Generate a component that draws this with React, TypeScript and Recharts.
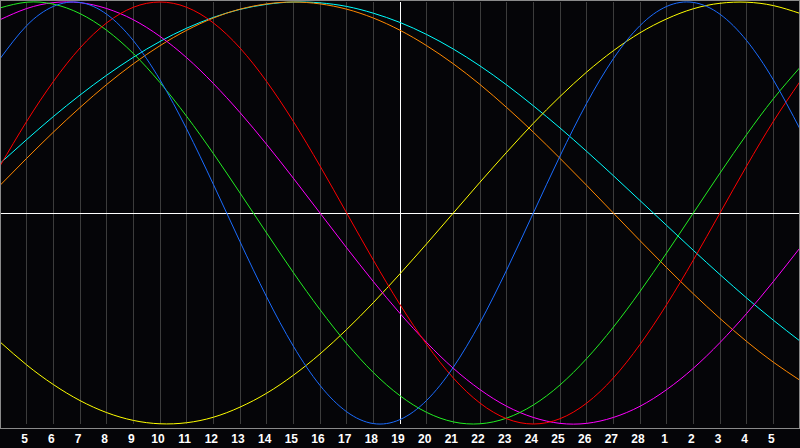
import React from "react";
import { LineChart, Line, XAxis, YAxis, CartesianGrid, ReferenceLine } from "recharts";

const days = [0, 1, 2, 3, 4, 5, 6, 7, 8, 9, 10, 11, 12, 13, 14, 15, 16, 17, 18, 19, 20, 21, 22, 23, 24, 25, 26, 27, 28, 29, 30];
const dayLabels = ["4", "5", "6", "7", "8", "9", "10", "11", "12", "13", "14", "15", "16", "17", "18", "19", "20", "21", "22", "23", "24", "25", "26", "27", "28", "1", "2", "3", "4", "5", "6"];
const tickDays = [1, 2, 3, 4, 5, 6, 7, 8, 9, 10, 11, 12, 13, 14, 15, 16, 17, 18, 19, 20, 21, 22, 23, 24, 25, 26, 27, 28, 29];
const todayIndex = 15;

const physical = [0.731, 0.888, 0.979, 0.998, 0.942, 0.817, 0.631, 0.398, 0.136, -0.136, -0.398, -0.631, -0.817, -0.942, -0.998, -0.979, -0.888, -0.731, -0.52, -0.27, 0, 0.27, 0.52, 0.731, 0.888, 0.979, 0.998, 0.942, 0.817, 0.631, 0.398];
const emotional = [0.223, 0.434, 0.623, 0.782, 0.901, 0.975, 1, 0.975, 0.901, 0.782, 0.623, 0.434, 0.223, 0, -0.223, -0.434, -0.623, -0.782, -0.901, -0.975, -1, -0.975, -0.901, -0.782, -0.623, -0.434, -0.223, 0, 0.223, 0.434, 0.623];
const intellectual = [0.972, 0.999, 0.99, 0.945, 0.866, 0.756, 0.618, 0.458, 0.282, 0.095, -0.095, -0.282, -0.458, -0.618, -0.756, -0.866, -0.945, -0.99, -0.999, -0.972, -0.91, -0.815, -0.69, -0.541, -0.372, -0.189, 0, 0.189, 0.372, 0.541, 0.69];
const intuitive = [0.916, 0.969, 0.997, 0.997, 0.969, 0.916, 0.837, 0.736, 0.614, 0.476, 0.325, 0.165, 0, -0.165, -0.325, -0.476, -0.614, -0.736, -0.837, -0.916, -0.969, -0.997, -0.997, -0.969, -0.916, -0.837, -0.736, -0.614, -0.476, -0.325, -0.165];
const aesthetic = [-0.611, -0.72, -0.813, -0.889, -0.946, -0.983, -0.999, -0.994, -0.968, -0.92, -0.854, -0.769, -0.668, -0.552, -0.425, -0.288, -0.146, 0, 0.146, 0.288, 0.425, 0.552, 0.668, 0.769, 0.854, 0.92, 0.968, 0.994, 0.999, 0.983, 0.946];
const awareness = [0.131, 0.259, 0.383, 0.5, 0.609, 0.707, 0.793, 0.866, 0.924, 0.966, 0.991, 1, 0.991, 0.966, 0.924, 0.866, 0.793, 0.707, 0.609, 0.5, 0.383, 0.259, 0.131, 0, -0.131, -0.259, -0.383, -0.5, -0.609, -0.707, -0.793];
const spiritual = [0.235, 0.348, 0.457, 0.559, 0.653, 0.738, 0.813, 0.876, 0.927, 0.965, 0.989, 1, 0.996, 0.979, 0.947, 0.903, 0.846, 0.777, 0.697, 0.607, 0.508, 0.403, 0.292, 0.177, 0.059, -0.059, -0.177, -0.292, -0.403, -0.508, -0.607];

const data = days.map((t, i) => ({
  t,
  physical: physical[i],
  emotional: emotional[i],
  intellectual: intellectual[i],
  intuitive: intuitive[i],
  aesthetic: aesthetic[i],
  awareness: awareness[i],
  spiritual: spiritual[i],
}));

const series = [
  { key: "spiritual", color: "#00ffff" },
  { key: "awareness", color: "#ff8800" },
  { key: "aesthetic", color: "#ffff00" },
  { key: "intuitive", color: "#ff00ff" },
  { key: "intellectual", color: "#22ee22" },
  { key: "emotional", color: "#ff0000" },
  { key: "physical", color: "#1a6cff" },
];

const DayTick = (props: any) => {
  const { x, payload } = props;
  return (
    <text
      x={x - 2}
      y={443}
      textAnchor="middle"
      fill="#ffffff"
      fontSize={12}
      fontWeight="bold"
      fontFamily="'Liberation Sans', Arial, sans-serif"
    >
      {dayLabels[payload.value]}
    </text>
  );
};

export default function App() {
  return (
    <div style={{ position: "relative", width: 800, height: 448, background: "#050508", overflow: "hidden" }}>
      <style>{"body{margin:0;background:#050508;}"}</style>
      <LineChart width={800} height={448} data={data} margin={{ top: 2, right: 0, bottom: 0, left: 0 }}>
        <CartesianGrid vertical={true} horizontal={false} stroke="#3c3c3c" strokeWidth={1} shapeRendering="crispEdges" />
        <XAxis
          dataKey="t"
          type="number"
          domain={[0, 30]}
          ticks={tickDays}
          height={24}
          axisLine={false}
          tickLine={false}
          interval={0}
          tick={<DayTick />}
        />
        <YAxis hide domain={[-1, 1]} type="number" />
        <ReferenceLine x={todayIndex} stroke="#ffffff" strokeWidth={1} shapeRendering="crispEdges" />
        <ReferenceLine y={0} stroke="#ffffff" strokeWidth={1} shapeRendering="crispEdges" />
        {series.map((s) => (
          <Line
            key={s.key}
            dataKey={s.key}
            type="natural"
            stroke={s.color}
            strokeWidth={1}
            dot={false}
            activeDot={false}
            isAnimationActive={false}
          />
        ))}
      </LineChart>
      <div
        style={{
          position: "absolute",
          left: 0,
          top: 0,
          width: 800,
          height: 429,
          boxSizing: "border-box",
          border: "1px solid #8a8a8a",
          pointerEvents: "none",
        }}
      />
    </div>
  );
}
